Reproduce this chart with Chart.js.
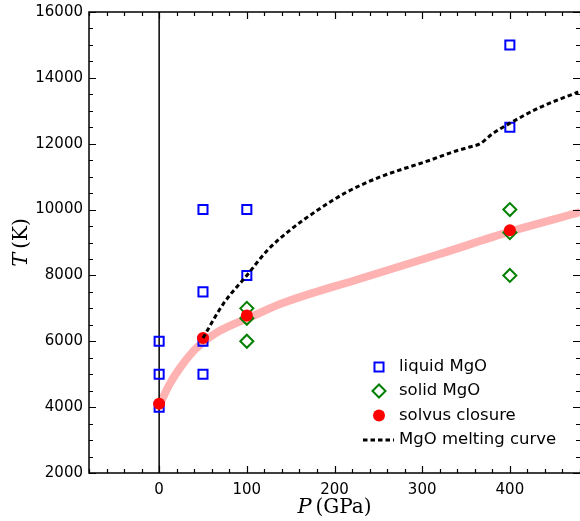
<!DOCTYPE html>
<html>
<head>
<meta charset="utf-8">
<script src="https://cdn.jsdelivr.net/npm/chart.js@4.4.1/dist/chart.umd.min.js"></script>
<style>
  html, body { margin: 0; padding: 0; background: #fff; }
  canvas { display: block; }
</style>
</head>
<body>
<canvas id="myChart" width="580" height="521"></canvas>
<script>
// data

const liquidP = [0, 0, 0, 50, 50, 50, 50, 100, 100, 400, 400];
const liquidT = [4000, 5000, 6000, 5000, 6000, 7500, 10000, 8000, 10000, 12500, 15000];

const solidP = [100, 100, 100, 400, 400, 400];
const solidT = [6000, 6700, 7000, 8000, 9300, 10000];

const solvusP = [0, 50, 100, 400];
const solvusT = [4100, 6100, 6780, 9370];

const meltP = [50, 73, 100, 123, 149, 180, 214, 252, 309, 335, 354, 366, 380, 400, 434, 478];
const meltT = [6100, 7130, 8000, 8750, 9370, 9970, 10530, 10990, 11500, 11750, 11900, 12000, 12300, 12620, 13100, 13570];

const fitP = [0, 12, 24, 39, 50, 66, 85, 104, 138, 229, 320, 400, 480];
const fitT = [4050, 4700, 5200, 5700, 5970, 6270, 6520, 6730, 7130, 7900, 8650, 9330, 9920];

const zeroP = [0, 0];
const zeroT = [2000, 16000];

const xTicks = [0, 100, 200, 300, 400];
const yTicks = [2000, 4000, 6000, 8000, 10000, 12000, 14000, 16000];

const legendLabels = ['liquid MgO', 'solid MgO', 'solvus closure', 'MgO melting curve'];

// helpers

function pts(xs, ys) {
    return xs.map((x, i) => ({x: x, y: ys[i]}));
}

Chart.defaults.font.family = 'DejaVu Sans';
Chart.defaults.font.size = 15;
Chart.defaults.color = '#000';

// frame with inward ticks on all four sides
const frameTicks = {
    id: 'frameTicks',
    afterDatasetsDraw(chart) {
        const ctx = chart.ctx;
        const a = chart.chartArea;
        const xs = chart.scales.x, ys = chart.scales.y;
        ctx.save();
        ctx.strokeStyle = '#000';
        ctx.lineWidth = 1.5;
        ctx.beginPath();
        ctx.moveTo(a.right, a.top);
        ctx.lineTo(a.left, a.top);
        ctx.lineTo(a.left, a.bottom);
        ctx.lineTo(a.right, a.bottom);
        ctx.stroke();

        ctx.lineWidth = 1.2;
        ctx.beginPath();
        for (let v = -80; v <= 480; v += 20) {
            const px = Math.round(xs.getPixelForValue(v)) + 0.5;
            const len = v % 100 === 0 ? 7 : 4;
            ctx.moveTo(px, a.bottom); ctx.lineTo(px, a.bottom - len);
            ctx.moveTo(px, a.top); ctx.lineTo(px, a.top + len);
        }
        for (let v = 2000; v <= 16000; v += 500) {
            const py = Math.round(ys.getPixelForValue(v)) + 0.5;
            const len = v % 2000 === 0 ? 7 : 4;
            ctx.moveTo(a.left, py); ctx.lineTo(a.left + len, py);
            ctx.moveTo(a.right, py); ctx.lineTo(a.right - len, py);
        }
        ctx.stroke();
        ctx.restore();
    }
};

// axis titles: italic symbol + roman unit
const axisTitles = {
    id: 'axisTitles',
    afterDraw(chart) {
        const ctx = chart.ctx;
        const a = chart.chartArea;
        const ital = 'italic 21px "DejaVu Serif"';
        const rom = '20px "DejaVu Serif"';
        function drawPair(sym, unit, cx, cy, rot) {
            ctx.save();
            ctx.translate(cx, cy);
            ctx.rotate(rot);
            ctx.fillStyle = '#000';
            ctx.textBaseline = 'middle';
            ctx.font = ital;
            const w1 = ctx.measureText(sym).width;
            ctx.font = rom;
            const w2 = ctx.measureText(unit).width;
            const gap = 4;
            let x0 = -(w1 + gap + w2) / 2;
            ctx.font = ital;
            ctx.fillText(sym, x0, 0);
            ctx.font = rom;
            ctx.fillText(unit, x0 + w1 + gap, 0);
            ctx.restore();
        }
        drawPair('P', '(GPa)', (a.left + a.right) / 2, 508, 0);
        drawPair('T', '(K)', 22, (a.top + a.bottom) / 2, -Math.PI / 2);
    }
};

// legend in the lower right of the plot
const legendBox = {
    id: 'legendBox',
    afterDatasetsDraw(chart) {
        const ctx = chart.ctx;
        const mx = 379, tx = 399;
        const rows = [367, 391, 415.5, 440];
        ctx.save();
        ctx.lineWidth = 2;
        // liquid
        ctx.strokeStyle = '#0000ff'; ctx.fillStyle = 'rgba(0,0,0,0)';
        Chart.helpers.drawPoint(ctx, {pointStyle: 'rect', radius: 6.4, borderWidth: 2, rotation: 0}, mx, rows[0]);
        // solid
        ctx.strokeStyle = '#008000';
        Chart.helpers.drawPoint(ctx, {pointStyle: 'rectRot', radius: 6.5, borderWidth: 2, rotation: 0}, mx, rows[1]);
        // solvus
        ctx.fillStyle = '#ff0000'; ctx.strokeStyle = '#ff0000';
        Chart.helpers.drawPoint(ctx, {pointStyle: 'circle', radius: 6, borderWidth: 0, rotation: 0}, mx, rows[2]);
        // melting curve
        ctx.strokeStyle = '#000'; ctx.lineWidth = 3;
        ctx.setLineDash([4.5, 3]);
        ctx.beginPath(); ctx.moveTo(363, rows[3]); ctx.lineTo(394, rows[3]); ctx.stroke();
        ctx.setLineDash([]);

        ctx.fillStyle = '#000';
        ctx.font = '16.5px "DejaVu Sans"';
        ctx.textBaseline = 'middle';
        legendLabels.forEach((t, i) => ctx.fillText(t, tx, rows[i]));
        ctx.restore();
    }
};

const myChart = document.getElementById('myChart').getContext('2d');

let phaseChart = new Chart(myChart, {
    type: 'scatter',
    data: {
        datasets: [
            {
                label: 'MgO melting curve',
                data: pts(meltP, meltT),
                showLine: true,
                borderColor: '#000',
                borderWidth: 3,
                borderDash: [4.5, 3],
                pointRadius: 0,
                cubicInterpolationMode: 'monotone',
                order: 0
            },
            {
                label: 'solvus closure',
                data: pts(solvusP, solvusT),
                pointStyle: 'circle',
                pointRadius: 6,
                backgroundColor: '#ff0000',
                borderColor: '#ff0000',
                borderWidth: 0,
                order: 1
            },
            {
                label: 'solid MgO',
                data: pts(solidP, solidT),
                pointStyle: 'rectRot',
                pointRadius: 6.5,
                backgroundColor: 'rgba(0,0,0,0)',
                borderColor: '#008000',
                borderWidth: 2,
                order: 2
            },
            {
                label: 'liquid MgO',
                data: pts(liquidP, liquidT),
                pointStyle: 'rect',
                pointRadius: 6.4,
                backgroundColor: 'rgba(0,0,0,0)',
                borderColor: '#0000ff',
                borderWidth: 2,
                order: 3
            },
            {
                label: 'P = 0',
                data: pts(zeroP, zeroT),
                showLine: true,
                borderColor: '#000',
                borderWidth: 1.5,
                pointRadius: 0,
                order: 4
            },
            {
                label: 'fit',
                data: pts(fitP, fitT),
                showLine: true,
                borderColor: '#ffb2b2',
                borderWidth: 8,
                pointRadius: 0,
                cubicInterpolationMode: 'monotone',
                order: 5
            }
        ]
    },
    options: {
        responsive: false,
        animation: false,
        layout: {autoPadding: false, padding: {top: 12, right: 0, left: 0, bottom: 0}},
        plugins: {
            legend: {display: false},
            tooltip: {enabled: false}
        },
        scales: {
            x: {
                type: 'linear',
                min: -80,
                max: 480,
                grid: {display: false},
                border: {display: false},
                afterFit: (s) => { s.height = 48; },
                afterBuildTicks: (s) => { s.ticks = xTicks.map(v => ({value: v})); },
                ticks: {padding: 0, maxRotation: 0, color: '#000', callback: (v) => String(v)}
            },
            y: {
                type: 'linear',
                min: 2000,
                max: 16000,
                grid: {display: false},
                border: {display: false},
                afterFit: (s) => { s.width = 89; },
                afterBuildTicks: (s) => { s.ticks = yTicks.map(v => ({value: v})); },
                ticks: {padding: -2, color: '#000', callback: (v) => String(v)}
            }
        }
    },
    plugins: [frameTicks, legendBox, axisTitles]
});
</script>
</body>
</html>
